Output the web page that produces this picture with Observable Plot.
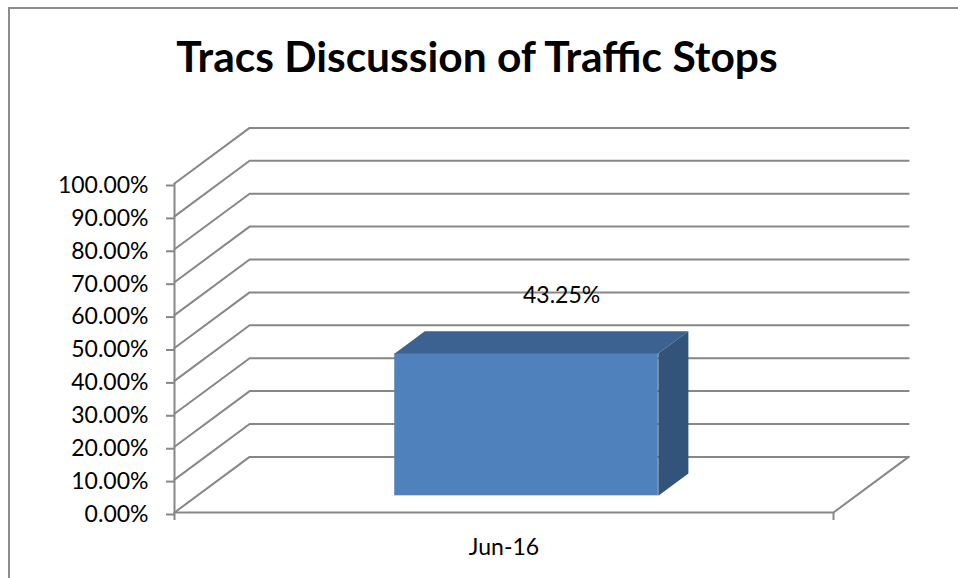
<!DOCTYPE html>
<html>
<head>
<meta charset="utf-8">
<script src="https://cdn.jsdelivr.net/npm/d3@7"></script>
<script src="https://cdn.jsdelivr.net/npm/@observablehq/plot@0.6"></script>
<style>
  html, body { margin: 0; padding: 0; background: #fff; }
  #wrap { position: relative; width: 958px; height: 578px; overflow: hidden; font-family: Lato, "Open Sans", sans-serif; }
  #frame { position: absolute; left: 8px; top: 7px; width: 1000px; height: 700px; border-top: 2px solid #8c8c8c; border-left: 2px solid #8c8c8c; box-sizing: border-box; }
  #title { position: absolute; left: 0; top: 0; width: 954px; height: 100px; box-sizing: border-box; padding-top: 30px; text-align: center; font-weight: bold; font-size: 42.5px; line-height: 1.2; color: #000; }
  #chart { position: absolute; left: 0; top: 100px; }
</style>
</head>
<body>
<div id="wrap">
  <div id="frame"></div>
  <div id="title">Tracs Discussion of Traffic Stops</div>
  <div id="chart"></div>
</div>
<script>
// ---- data ----
const categories = ["Jun-16"];
const values = [0.4325];
const yTicks = [0, 0.1, 0.2, 0.3, 0.4, 0.5, 0.6, 0.7, 0.8, 0.9, 1.0];

// ---- oblique 3D projection (depth expressed in data units) ----
const DX = 0.114;  // depth shift along x (category units)
const DY = 0.169;  // depth shift along y (value units)
const proj = (x, y, z) => ({x: x + z * DX, y: y + z * DY});
const fmt = d => (d * 100).toFixed(2) + "%";

// back wall + side wall gridlines
const grid = yTicks.flatMap(t => [
  {k: t, ...proj(0, t, 0)},
  {k: t, ...proj(0, t, 1)},
  {k: t, ...proj(1, t, 1)}
]);
// floor front edge + right edge
const floor = [proj(0, 0, 0), proj(1, 0, 0), proj(1, 0, 1)];

// bar geometry (gap width 150%, gap depth centered)
const bw = 0.4, z0 = 0.3, z1 = 0.7;
const bars = values.map((v, i) => ({i, v, xa: i + 0.5 - bw / 2, xb: i + 0.5 + bw / 2}));
const front = bars.map(b => ({x1: proj(b.xa, 0, z0).x, x2: proj(b.xb, 0, z0).x, y1: proj(0, 0, z0).y, y2: proj(0, b.v, z0).y}));
const topFace = bars.flatMap(b => [proj(b.xa, b.v, z0), proj(b.xa, b.v, z1), proj(b.xb, b.v, z1), proj(b.xb, b.v, z0)].map(p => ({...p, k: b.i})));
const sideFace = bars.flatMap(b => [proj(b.xb, 0, z0), proj(b.xb, b.v, z0), proj(b.xb, b.v, z1), proj(b.xb, 0, z1)].map(p => ({...p, k: b.i})));
const labels = bars.map(b => ({...proj(b.i + 0.5, b.v, z1), t: fmt(b.v)}));

const gray = "#878787";
const sw = 2;
const plot = Plot.plot({
  width: 958,
  height: 478,
  marginLeft: 174,
  marginRight: 125,
  marginTop: 83,
  marginBottom: 66,
  style: {fontFamily: "Lato, 'Open Sans', sans-serif", background: "transparent", overflow: "visible"},
  x: {type: "linear", domain: [0, categories.length], axis: null},
  y: {type: "linear", domain: [0, 1], axis: null},
  marks: [
    Plot.line(grid, {x: "x", y: "y", z: "k", stroke: gray, strokeWidth: sw}),
    Plot.line(floor, {x: "x", y: "y", stroke: gray, strokeWidth: sw}),
    Plot.ruleX([0], {y1: 0, y2: 1, stroke: gray, strokeWidth: sw}),
    Plot.axisX({ticks: [0, categories.length], tickSize: 8, tickFormat: () => "", stroke: gray, strokeWidth: sw}),
    Plot.axisY({ticks: yTicks, tickSize: 8, tickPadding: 18, tickFormat: fmt, fontSize: 23, fill: "#000", stroke: gray, strokeWidth: sw, dy: 2}),
    Plot.rect(front, {x1: "x1", x2: "x2", y1: "y1", y2: "y2", fill: "#4f81bd"}),
    Plot.line(topFace, {x: "x", y: "y", z: "k", fill: "#3c6292", stroke: "none"}),
    Plot.line(sideFace, {x: "x", y: "y", z: "k", fill: "#32547b", stroke: "none"}),
    Plot.text(labels, {x: "x", y: "y", text: "t", dx: 5, dy: -36, fontSize: 23, fill: "#000"}),
    Plot.text(categories, {x: (d, i) => i + 0.5, y: () => 0, text: d => d, dy: 35, fontSize: 23, fill: "#000"})
  ]
});
document.getElementById("chart").appendChild(plot);
</script>
</body>
</html>
